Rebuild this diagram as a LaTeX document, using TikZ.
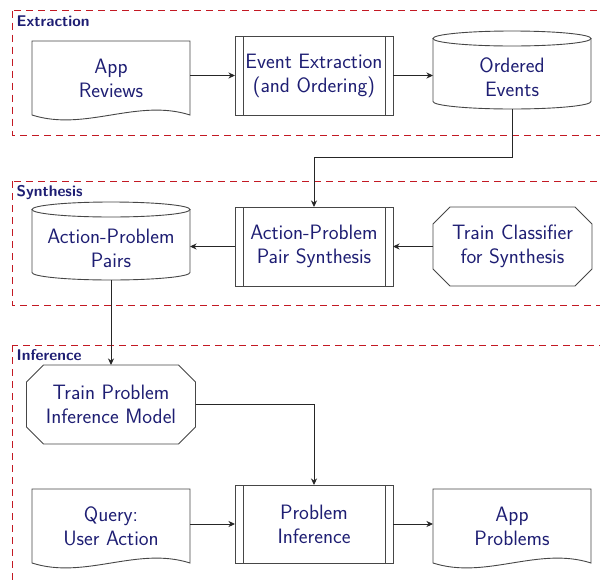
\documentclass[tikz,border=0pt]{standalone}
\usetikzlibrary{calc,arrows.meta}
\definecolor{txtblue}{RGB}{30,30,115}
\definecolor{linegray}{RGB}{70,70,70}
\definecolor{dashred}{RGB}{195,25,35}
\tikzset{
  txt/.style={rectangle, inner sep=0pt, outer sep=0pt, align=center, text=txtblue,
    font=\sffamily\fontsize{20.8}{24}\selectfont},
  shp/.style={draw=linegray, line width=0.9pt, fill=white},
  arr/.style={draw=black!85, line width=0.9pt, -{Stealth[length=6.5pt,width=6pt,inset=2pt]}},
  frame/.style={draw=dashred, line width=0.9pt, dash pattern=on 7pt off 5pt},
  lbl/.style={anchor=base west, inner sep=0pt, text=txtblue,
    font=\sffamily\bfseries\fontsize{15.5}{18}\selectfont},
}
\newcommand\docout[1]{\draw[shp] (#1.north west) -- (#1.north east) -- (#1.south east)
  .. controls ($(#1.south east)+(-53,-17)$) and ($(#1.south west)+(53,17)$) .. (#1.south west) -- cycle;}
\newcommand\procout[1]{\draw[shp] (#1.north west) rectangle (#1.south east);
  \draw[shp] ($(#1.north west)+(8,0)$) -- ($(#1.south west)+(8,0)$);
  \draw[shp] ($(#1.north east)+(-8,0)$) -- ($(#1.south east)+(-8,0)$);}
\newcommand\cylout[1]{%
  \draw[shp] ($(#1.north west)+(0,-7.5)$) -- ($(#1.south west)+(0,-7.5)$)
    arc[start angle=180, end angle=0, x radius=79, y radius=7.5]
    -- ($(#1.north east)+(0,-7.5)$) -- cycle;
  \draw[shp] ($(#1.north)+(0,-7.5)$) ellipse [x radius=79, y radius=7.5];}
\newcommand\octout[1]{\draw[shp]
  ($(#1.north west)+(17,0)$) -- ($(#1.north east)+(-17,0)$) -- ($(#1.north east)+(0,17)$)
  -- ($(#1.south east)+(0,-17)$) -- ($(#1.south east)+(-17,0)$) -- ($(#1.south west)+(17,0)$)
  -- ($(#1.south west)+(0,-17)$) -- ($(#1.north west)+(0,17)$) -- cycle;}
\begin{document}
\begin{tikzpicture}[x=1pt,y=-1pt]
\useasboundingbox (0,0) rectangle (600,582);
\clip (0,0) rectangle (600,582);
% frames
\draw[frame] (12.5,10.5) rectangle (660,135);
\draw[frame] (12.5,181) rectangle (660,305.5);
\draw[frame] (12.5,345) rectangle (660,660);
\node[lbl] (lex) at (16.5,26) {Extraction};
\node[lbl] (lsy) at (16.5,196) {Synthesis};
\node[lbl] (lin) at (16.5,360.5) {Inference};
% nodes (invisible text boxes)
\node[txt, minimum width=158pt, minimum height=74pt] (ar) at (111,78) {};
\node[txt, minimum width=158pt, minimum height=79pt] (ee) at (314,75.5) {};
\node[txt, minimum width=158pt, minimum height=63pt] (oe) at (512,77.5) {};
\node[txt, minimum width=158pt, minimum height=63pt] (app) at (111,248.5) {};
\node[txt, minimum width=158pt, minimum height=79pt] (aps) at (314,246.5) {};
\node[txt, minimum width=159pt, minimum height=79pt] (tc) at (512.5,246.5) {};
\node[txt, minimum width=169pt, minimum height=79pt] (tpi) at (111,404.5) {};
\node[txt, minimum width=158pt, minimum height=74pt] (q) at (111,526) {};
\node[txt, minimum width=158pt, minimum height=78pt] (pi) at (314,524) {};
\node[txt, minimum width=158pt, minimum height=74pt] (ap) at (512,526) {};
% outlines
\docout{ar}\procout{ee}\cylout{oe}
\cylout{app}\procout{aps}\octout{tc}
\octout{tpi}
\docout{q}\procout{pi}\docout{ap}
% texts
\node[txt] at (ar) {App\\Reviews};
\node[txt] at (ee) {Event Extraction\\(and Ordering)};
\node[txt] at (oe) {Ordered\\Events};
\node[txt] at (app) {Action-Problem\\Pairs};
\node[txt] at (aps) {Action-Problem\\Pair Synthesis};
\node[txt] at (tc) {Train Classifier\\for Synthesis};
\node[txt] at (tpi) {Train Problem\\Inference Model};
\node[txt] at (q) {Query:\\User Action};
\node[txt] at (pi) {Problem\\Inference};
\node[txt] at (ap) {App\\Problems};
% connectors
\draw[arr] (ee.west -| ar.east) -- (ee.west);
\draw[arr] (ee.east) -- (ee.east -| oe.west);
\draw[arr] (oe.south) -- ++(0,48) -| (aps.north);
\draw[arr] (aps.west) -- (aps.west -| app.east);
\draw[arr] (tc.west) -- (aps.east);
\draw[arr] (app.south) -- (tpi.north);
\draw[arr] (tpi.east) -| (pi.north);
\draw[arr] (pi.west -| q.east) -- (pi.west);
\draw[arr] (pi.east) -- (pi.east -| ap.west);
\end{tikzpicture}
\end{document}
